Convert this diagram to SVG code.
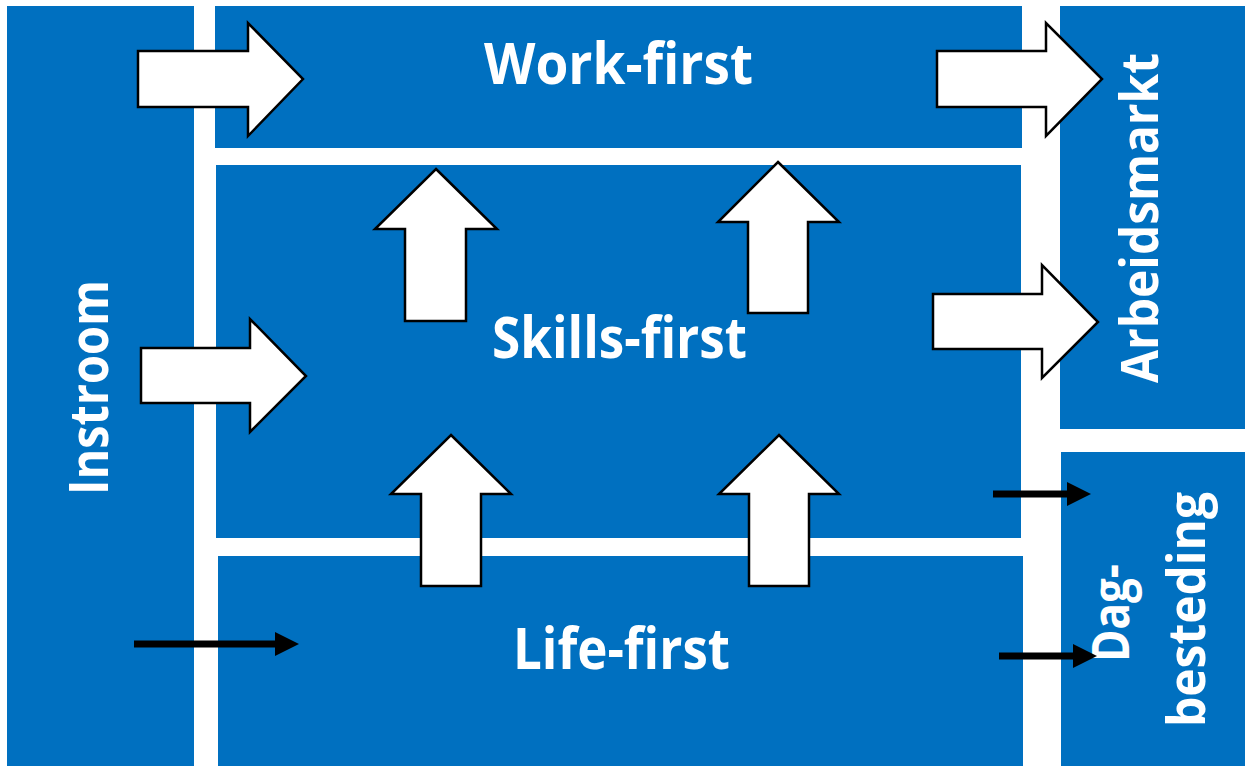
<svg xmlns="http://www.w3.org/2000/svg" width="1245" height="767" viewBox="0 0 1245 767">
<style>
.box{fill:#0070C0}
.lbl{fill:#FFFFFF;font-family:"Open Sans","Noto Sans","Liberation Sans",sans-serif;font-weight:700;text-anchor:middle}
.big{fill:#FFFFFF;stroke:#000000;stroke-width:2.5;stroke-linejoin:miter}
.thin{stroke:#000000;stroke-width:7;fill:none}
</style>
<defs>
<marker id="head" markerUnits="userSpaceOnUse" markerWidth="24" markerHeight="24" refX="0" refY="12" orient="auto">
<path d="M0,0 L24,12 L0,24 Z" fill="#000000"/>
</marker>
</defs>
<rect x="0" y="0" width="1245" height="767" fill="#FFFFFF"/>
<g id="instroom">
<rect class="box" x="7" y="6" width="187" height="760"/>
<text class="lbl" font-size="54" transform="translate(108,387.5) rotate(-90)" textLength="215" lengthAdjust="spacingAndGlyphs">Instroom</text>
</g>
<g id="work-first">
<rect class="box" x="215" y="6" width="807" height="142"/>
<text class="lbl" font-size="58" x="618.5" y="84" textLength="269" lengthAdjust="spacingAndGlyphs">Work-first</text>
</g>
<g id="skills-first">
<rect class="box" x="216" y="165" width="805" height="373"/>
<text class="lbl" font-size="58" x="619.5" y="358" textLength="255" lengthAdjust="spacingAndGlyphs">Skills-first</text>
</g>
<g id="life-first">
<rect class="box" x="218" y="556" width="805" height="210"/>
<text class="lbl" font-size="58" x="621.5" y="669" textLength="217" lengthAdjust="spacingAndGlyphs">Life-first</text>
</g>
<g id="arbeidsmarkt">
<rect class="box" x="1060" y="6" width="185" height="423"/>
<text class="lbl" font-size="52" transform="translate(1158,218) rotate(-90)" textLength="330" lengthAdjust="spacingAndGlyphs">Arbeidsmarkt</text>
</g>
<g id="dagbesteding">
<rect class="box" x="1061" y="452" width="184" height="314"/>
<text class="lbl" font-size="52" transform="translate(1129,613) rotate(-90)" textLength="98" lengthAdjust="spacingAndGlyphs">Dag-</text>
<text class="lbl" font-size="52" transform="translate(1205,609.5) rotate(-90)" textLength="235" lengthAdjust="spacingAndGlyphs">besteding</text>
</g>
<g id="connectors">
<polygon class="big" points="138,51 248,51 248,23 303,79 248,136 248,107 138,107"/>
<polygon class="big" points="937,51 1046,51 1046,23 1102,79 1046,136 1046,107 937,107"/>
<polygon class="big" points="141,348 250,348 250,319 306,376 250,432 250,403 141,403"/>
<polygon class="big" points="933,294 1042,294 1042,265 1098,322 1042,378 1042,349 933,349"/>
<polygon class="big" points="436,169 497,229 466,229 466,321 405,321 405,229 375,229"/>
<polygon class="big" points="778,162 839,222 808,222 808,313 748,313 748,222 718,222"/>
<polygon class="big" points="451,435 511,494 481,494 481,586 421,586 421,494 391,494"/>
<polygon class="big" points="779,435 839,494 809,494 809,586 749,586 749,494 719,494"/>
<line class="thin" x1="134" y1="644" x2="275" y2="644" marker-end="url(#head)"/>
<line class="thin" x1="993" y1="494" x2="1067" y2="494" marker-end="url(#head)"/>
<line class="thin" x1="999" y1="656" x2="1073" y2="656" marker-end="url(#head)"/>
</g>
</svg>
